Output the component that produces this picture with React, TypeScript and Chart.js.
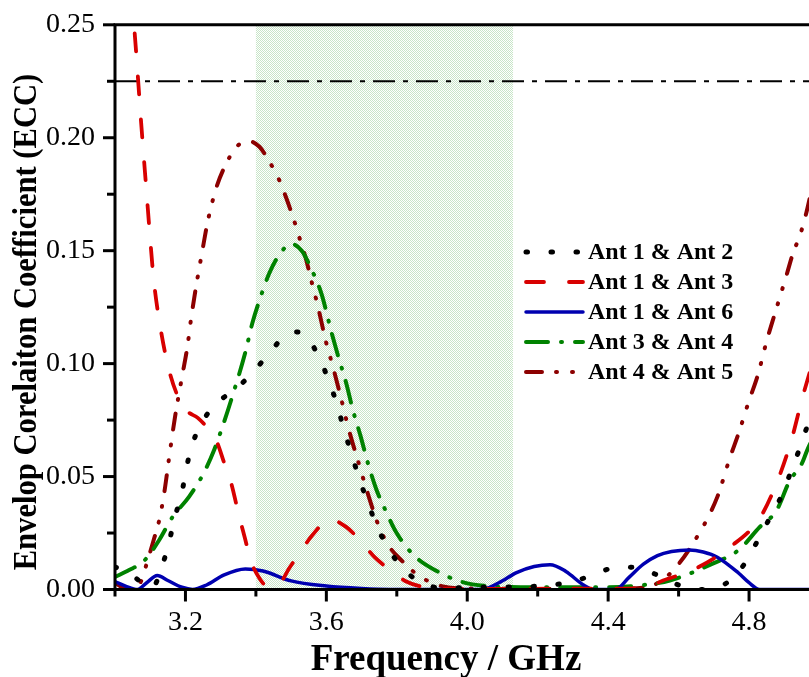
import React, { useEffect, useRef } from "react";
import { Chart, registerables } from "chart.js";

Chart.register(...registerables);

// ---------------- data ----------------
const ant12Freq = [3.00, 3.05, 3.105, 3.135, 3.155, 3.17, 3.19, 3.203, 3.22, 3.25, 3.285, 3.345, 3.396, 3.44, 3.48, 3.51, 3.54, 3.58, 3.609, 3.632, 3.65, 3.672, 3.694, 3.718, 3.742, 3.774, 3.814, 3.877, 3.95, 4.02, 4.16, 4.235, 4.30, 4.37, 4.40, 4.47, 4.54, 4.60, 4.67, 4.74, 4.79, 4.825, 4.86, 4.893, 4.92, 4.945, 4.967, 5.00];
const ant12Ecc = [0.010, 0.006, 0.0007, 0.011, 0.022, 0.032, 0.043, 0.054, 0.0645, 0.0747, 0.082, 0.089, 0.097, 0.105, 0.112, 0.114, 0.1126, 0.1025, 0.0915, 0.081, 0.0708, 0.0598, 0.0487, 0.0386, 0.0285, 0.0187, 0.0099, 0.0024, 0.0007, 0.001, 0.0012, 0.002, 0.0035, 0.0073, 0.009, 0.0099, 0.0064, 0.002, 0.0, 0.0033, 0.012, 0.0218, 0.032, 0.0417, 0.0527, 0.063, 0.073, 0.085];

const ant13Freq = [3.00, 3.03, 3.055, 3.075, 3.09, 3.10, 3.11, 3.13, 3.152, 3.177, 3.205, 3.235, 3.265, 3.29, 3.31, 3.33, 3.35, 3.37, 3.385, 3.41, 3.43, 3.45, 3.47, 3.495, 3.524, 3.56, 3.61, 3.657, 3.694, 3.737, 3.774, 3.83, 3.88, 3.95, 4.45, 4.51, 4.556, 4.64, 4.745, 4.83, 4.878, 4.92, 4.95, 4.97, 5.00];
const ant13Ecc = [0.36, 0.29, 0.248, 0.205, 0.175, 0.155, 0.137, 0.115, 0.098, 0.086, 0.079, 0.076, 0.071, 0.065, 0.056, 0.047, 0.034, 0.022, 0.013, 0.005, 0.0015, 0.001, 0.003, 0.0095, 0.016, 0.024, 0.031, 0.0276, 0.022, 0.0143, 0.0095, 0.0033, 0.001, 0.0003, 0.0004, 0.001, 0.004, 0.0086, 0.0187, 0.0315, 0.047, 0.066, 0.084, 0.095, 0.11];

const ant16Freq = [3.00, 3.03, 3.064, 3.09, 3.12, 3.15, 3.19, 3.22, 3.26, 3.31, 3.37, 3.42, 3.50, 3.60, 3.70, 3.78, 4.04, 4.09, 4.14, 4.19, 4.235, 4.28, 4.33, 4.36, 4.42, 4.46, 4.50, 4.54, 4.58, 4.63, 4.67, 4.71, 4.77, 4.80, 4.83, 5.00];
const ant16Ecc = [0.0035, 0.0015, 0.0, 0.003, 0.0062, 0.004, 0.001, 0.0, 0.002, 0.0065, 0.0091, 0.0082, 0.0038, 0.0015, 0.0004, 0.0, 0.0, 0.003, 0.0075, 0.0102, 0.011, 0.008, 0.002, 0.0, 0.0, 0.0055, 0.0112, 0.015, 0.0168, 0.0175, 0.0166, 0.0143, 0.0073, 0.003, 0.0, 0.0];

const ant34Freq = [3.00, 3.04, 3.078, 3.10, 3.126, 3.163, 3.21, 3.25, 3.282, 3.306, 3.33, 3.37, 3.39, 3.41, 3.438, 3.47, 3.50, 3.53, 3.557, 3.586, 3.615, 3.635, 3.657, 3.675, 3.697, 3.716, 3.742, 3.768, 3.80, 3.848, 3.913, 3.986, 4.06, 4.2, 4.4, 4.5, 4.575, 4.70, 4.77, 4.83, 4.878, 4.915, 4.95, 4.967, 5.00];
const ant34Ecc = [0.0055, 0.0086, 0.012, 0.016, 0.022, 0.032, 0.041, 0.051, 0.062, 0.0725, 0.084, 0.105, 0.118, 0.128, 0.14, 0.149, 0.153, 0.150, 0.142, 0.131, 0.1136, 0.1025, 0.091, 0.0796, 0.068, 0.057, 0.0443, 0.035, 0.0249, 0.0152, 0.0082, 0.0033, 0.0015, 0.001, 0.001, 0.002, 0.004, 0.0117, 0.0174, 0.0276, 0.035, 0.048, 0.0558, 0.0624, 0.072];

const ant45Freq = [3.00, 3.03, 3.06, 3.075, 3.09, 3.11, 3.126, 3.14, 3.155, 3.17, 3.19, 3.205, 3.217, 3.23, 3.248, 3.262, 3.277, 3.29, 3.314, 3.345, 3.38, 3.41, 3.436, 3.467, 3.487, 3.507, 3.527, 3.541, 3.557, 3.575, 3.60, 3.618, 3.646, 3.66, 3.675, 3.692, 3.714, 3.75, 3.78, 3.81, 3.86, 3.927, 4.0, 4.3, 4.45, 4.52, 4.58, 4.65, 4.71, 4.745, 4.77, 4.80, 4.825, 4.85, 4.873, 4.907, 4.925, 4.945, 4.963, 4.975, 5.00];
const ant45Ecc = [0.003, 0.0005, 0.001, 0.004, 0.0115, 0.022, 0.031, 0.043, 0.06, 0.076, 0.094, 0.107, 0.121, 0.134, 0.150, 0.162, 0.172, 0.179, 0.188, 0.196, 0.1985, 0.196, 0.19, 0.181, 0.173, 0.164, 0.154, 0.147, 0.137, 0.126, 0.109, 0.099, 0.082, 0.073, 0.0646, 0.0558, 0.0443, 0.0276, 0.0187, 0.0134, 0.0064, 0.0015, 0.0005, 0.0003, 0.0005, 0.0015, 0.0077, 0.0227, 0.041, 0.058, 0.069, 0.0836, 0.095, 0.110, 0.122, 0.1395, 0.149, 0.157, 0.167, 0.175, 0.19];

const limitFreq = [3.0, 5.0];
const limitEcc = [0.225, 0.225];

const bandRange = [3.4, 4.13];

const freqRange = [3.0, 5.0];
const eccRange = [0, 0.25];
const freqMajorTicks = [3.2, 3.6, 4.0, 4.4, 4.8];
const eccMajorTicks = [0.0, 0.05, 0.1, 0.15, 0.2, 0.25];

const seriesLabels = ["Ant 1 & Ant 2", "Ant 1 & Ant 3", "Ant 1 & Ant 6", "Ant 3 & Ant 4", "Ant 4 & Ant 5"];

const xTitle = "Frequency / GHz";
const yTitle = "Envelop Corelaiton Coefficient (ECC)";

// ---------------- styling ----------------
const FONT = '"Liberation Serif", "Times New Roman", serif';

const toPoints = (xs: number[], ys: number[]) => xs.map((x, i) => ({ x, y: ys[i] }));

const isMajor = (v: number, list: number[]) => list.some((t) => Math.abs(t - v) < 1e-6);

function makeBandPattern(ctx: CanvasRenderingContext2D) {
  const c = document.createElement("canvas");
  c.width = 2;
  c.height = 2;
  const g = c.getContext("2d")!;
  g.fillStyle = "#ffffff";
  g.fillRect(0, 0, 2, 2);
  g.fillStyle = "rgb(200,229,200)";
  g.fillRect(0, 0, 1, 1);
  g.fillRect(1, 1, 1, 1);
  return ctx.createPattern(c, "repeat");
}

const decorPlugin = {
  id: "decor",
  beforeDatasetsDraw(chart: any) {
    const { ctx, chartArea: a, scales } = chart;
    const x1 = scales.x.getPixelForValue(bandRange[0]);
    const x2 = scales.x.getPixelForValue(bandRange[1]);
    ctx.save();
    ctx.fillStyle = makeBandPattern(ctx) || "rgb(226,241,226)";
    ctx.fillRect(x1, a.top, x2 - x1, a.bottom - a.top);
    ctx.restore();
  },
  afterDraw(chart: any) {
    const { ctx, chartArea: a, scales } = chart;
    const xs = scales.x;
    const ys = scales.y;
    ctx.save();
    ctx.strokeStyle = "#000";
    ctx.lineWidth = 3;
    ctx.lineCap = "butt";
    ctx.setLineDash([]);
    // x ticks
    for (const t of xs.ticks) {
      const px = xs.getPixelForValue(t.value);
      const len = isMajor(t.value, freqMajorTicks) ? 12 : 7;
      ctx.beginPath();
      ctx.moveTo(px, a.bottom);
      ctx.lineTo(px, a.bottom + len);
      ctx.stroke();
    }
    // y ticks
    for (const t of ys.ticks) {
      const py = ys.getPixelForValue(t.value);
      const len = isMajor(t.value, eccMajorTicks) ? 12 : 8;
      ctx.beginPath();
      ctx.moveTo(a.left - len, py);
      ctx.lineTo(a.left, py);
      ctx.stroke();
    }
    // frame
    ctx.lineCap = "square";
    ctx.beginPath();
    ctx.moveTo(a.left, a.bottom);
    ctx.lineTo(a.left, a.top);
    ctx.lineTo(a.right, a.top);
    ctx.lineTo(a.right, a.bottom);
    ctx.closePath();
    ctx.stroke();

    // axis titles
    ctx.fillStyle = "#000";
    ctx.font = `bold 37px ${FONT}`;
    ctx.textAlign = "center";
    ctx.textBaseline = "alphabetic";
    ctx.fillText(xTitle, 446, 670);

    ctx.save();
    ctx.translate(27, 322);
    ctx.rotate(-Math.PI / 2);
    ctx.scale(0.9, 1);
    ctx.font = `bold 34px ${FONT}`;
    ctx.textAlign = "center";
    ctx.textBaseline = "middle";
    ctx.fillText(yTitle, 0, 0);
    ctx.restore();

    // legend
    const lx0 = 526;
    const lx1 = 583;
    const tx = 588;
    const ly0 = 252;
    const dy = 30;
    let row = 0;
    chart.data.datasets.forEach((ds: any) => {
      if (!ds.label) return;
      const yy = ly0 + row * dy;
      ctx.save();
      ctx.strokeStyle = ds.borderColor;
      ctx.lineWidth = ds.borderWidth;
      ctx.lineCap = ds.borderCapStyle || "butt";
      ctx.setLineDash(ds.borderDash || []);
      ctx.beginPath();
      ctx.moveTo(lx0, yy);
      ctx.lineTo(lx1, yy);
      ctx.stroke();
      ctx.restore();
      ctx.fillStyle = "#000";
      ctx.font = `bold 24px ${FONT}`;
      ctx.textAlign = "left";
      ctx.textBaseline = "middle";
      ctx.fillText(ds.label, tx, yy + 1);
      row += 1;
    });
    ctx.restore();
  },
};

export default function App() {
  const ref = useRef<HTMLCanvasElement | null>(null);

  useEffect(() => {
    if (!ref.current) return;
    const common = {
      fill: false,
      pointRadius: 0,
      pointHoverRadius: 0,
      cubicInterpolationMode: "monotone" as const,
    };
    const chart = new Chart(ref.current, {
      type: "line",
      data: {
        datasets: [
          {
            ...common,
            label: seriesLabels[0],
            data: toPoints(ant12Freq, ant12Ecc),
            borderColor: "#000000",
            borderWidth: 5,
            borderDash: [1.5, 23.5],
            borderCapStyle: "round",
          },
          {
            ...common,
            label: seriesLabels[1],
            data: toPoints(ant13Freq, ant13Ecc),
            borderColor: "#d80000",
            borderWidth: 3.8,
            borderDash: [18, 25],
            borderCapStyle: "round",
          },
          {
            ...common,
            label: seriesLabels[2],
            data: toPoints(ant16Freq, ant16Ecc),
            borderColor: "#0000b0",
            borderWidth: 3.5,
            borderDash: [],
            borderCapStyle: "round",
          },
          {
            ...common,
            label: seriesLabels[3],
            data: toPoints(ant34Freq, ant34Ecc),
            borderColor: "#008200",
            borderWidth: 4,
            borderDash: [22, 13, 1, 13],
            borderCapStyle: "round",
          },
          {
            ...common,
            label: seriesLabels[4],
            data: toPoints(ant45Freq, ant45Ecc),
            borderColor: "#8c0000",
            borderWidth: 4,
            borderDash: [16, 14, 1, 15, 1, 15],
            borderCapStyle: "round",
          },
          {
            ...common,
            label: "",
            data: toPoints(limitFreq, limitEcc),
            borderColor: "#000000",
            borderWidth: 2,
            borderDash: [22, 8, 5, 8],
            borderCapStyle: "butt",
            cubicInterpolationMode: "default",
          },
        ],
      },
      options: {
        responsive: false,
        maintainAspectRatio: false,
        animation: false,
        devicePixelRatio: 1,
        events: [],
        layout: { padding: { left: 0, top: 23, right: 10.5, bottom: 0 } },
        plugins: {
          legend: { display: false },
          tooltip: { enabled: false },
          title: { display: false },
        },
        scales: {
          x: {
            type: "linear",
            min: freqRange[0],
            max: freqRange[1],
            afterFit: (s: any) => {
              s.height = 87.5;
            },
            border: { display: false },
            grid: {
              drawOnChartArea: false,
              drawTicks: true,
              tickLength: 12,
              color: "rgba(0,0,0,0)",
            },
            ticks: {
              stepSize: 0.2,
              autoSkip: false,
              maxRotation: 0,
              minRotation: 0,
              padding: 4,
              color: "#000",
              font: { family: FONT, size: 28 },
              callback: (v: any) => (isMajor(Number(v), freqMajorTicks) ? Number(v).toFixed(1) : ""),
            },
          },
          y: {
            type: "linear",
            min: eccRange[0],
            max: eccRange[1],
            afterFit: (s: any) => {
              s.width = 115;
            },
            border: { display: false },
            grid: {
              drawOnChartArea: false,
              drawTicks: true,
              tickLength: 12,
              color: "rgba(0,0,0,0)",
            },
            ticks: {
              stepSize: 0.025,
              autoSkip: false,
              padding: 8,
              color: "#000",
              font: { family: FONT, size: 28 },
              callback: (v: any) => (isMajor(Number(v), eccMajorTicks) ? Number(v).toFixed(2) : ""),
            },
          },
        },
      },
      plugins: [decorPlugin],
    } as any);
    return () => chart.destroy();
  }, []);

  return (
    <div
      style={{
        position: "fixed",
        left: 0,
        top: 0,
        width: 809,
        height: 677,
        overflow: "hidden",
        background: "#ffffff",
      }}
    >
      <canvas ref={ref} width={830} height={677} style={{ display: "block", width: 830, height: 677 }} />
    </div>
  );
}
